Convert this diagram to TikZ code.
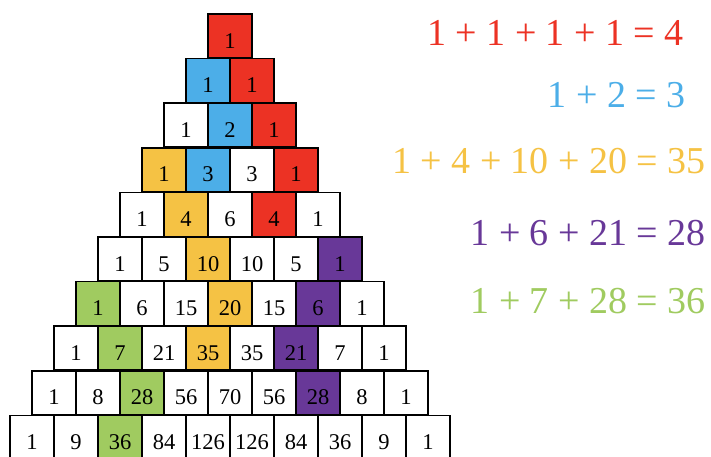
\documentclass[tikz,border=0pt]{standalone}
\usepackage{fontspec}
\setmainfont{Liberation Serif}
\usetikzlibrary{positioning}

\definecolor{redc}{RGB}{236,50,36}
\definecolor{bluec}{RGB}{76,174,232}
\definecolor{yelc}{RGB}{245,194,68}
\definecolor{purc}{RGB}{104,56,152}
\definecolor{grnc}{RGB}{160,203,96}

\begin{document}
\begin{tikzpicture}[
x=1pt, y=-1pt,
cell/.style={rectangle, draw=black, line width=1.6pt, minimum size=44pt, inner sep=0pt, text height=24pt, text depth=0pt, font=\fontsize{22.5}{22.5}\selectfont},
sum/.style={anchor=base east, inner sep=0pt, font=\fontsize{38}{38}\selectfont}
]
\useasboundingbox (0,0) rectangle (711,456);
\clip (0,0) rectangle (711,456);

% rows of the triangle: value/fill
\foreach \r/\cells in {
  0/{1/redc},
  1/{1/bluec, 1/redc},
  2/{1/white, 2/bluec, 1/redc},
  3/{1/yelc, 3/bluec, 3/white, 1/redc},
  4/{1/white, 4/yelc, 6/white, 4/redc, 1/white},
  5/{1/white, 5/white, 10/yelc, 10/white, 5/white, 1/purc},
  6/{1/grnc, 6/white, 15/white, 20/yelc, 15/white, 6/purc, 1/white},
  7/{1/white, 7/grnc, 21/white, 35/yelc, 35/white, 21/purc, 7/white, 1/white},
  8/{1/white, 8/white, 28/grnc, 56/white, 70/white, 56/white, 28/purc, 8/white, 1/white},
  9/{1/white, 9/white, 36/grnc, 84/white, 126/white, 126/white, 84/white, 36/white, 9/white, 1/white}}
{
  \foreach \v/\c [count=\k from 0] in \cells
    \node[cell, fill=\c] (c\r-\k) at ({230+(\k-\r/2)*44}, {36+\r*44.6}) {\v};
}

% sums
\node[sum, text=redc] (sumred) at (684,45) {1 + 1 + 1 + 1 = 4};
\node[sum, text=bluec] (sumblue) at (686,107) {1 + 2 = 3};
\node[sum, text=yelc] (sumyel) at (706,173) {1 + 4 + 10 + 20 = 35};
\node[sum, text=purc] (sumpur) at (706,245) {1 + 6 + 21 = 28};
\node[sum, text=grnc] (sumgrn) at (706,313) {1 + 7 + 28 = 36};
\end{tikzpicture}
\end{document}
